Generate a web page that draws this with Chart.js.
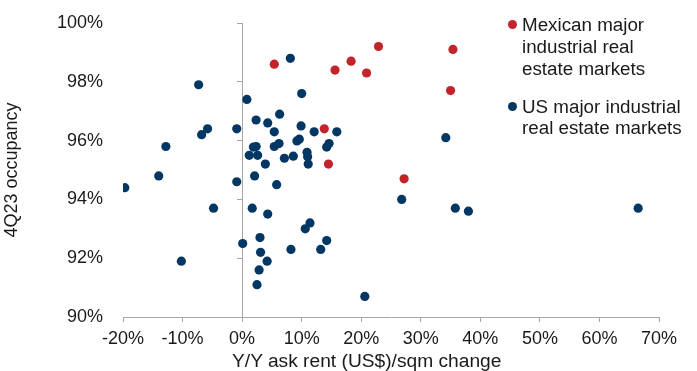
<!DOCTYPE html>
<html>
<head>
<meta charset="utf-8">
<script src="https://cdn.jsdelivr.net/npm/chart.js@4/dist/chart.umd.min.js"></script>
<style>
  body { margin: 0; background: #fff; }
  #wrap { position: relative; width: 697px; height: 371px; }
  #legend { position: absolute; left: 507px; top: 14px; font-family: 'Liberation Sans', Arial, sans-serif;
            font-size: 18.8px; line-height: 22px; color: #1a1a1a; }
  .item { position: relative; padding-left: 15px; margin-bottom: 16px; }
  .item + .item { line-height: 21px; }
  .dot { position: absolute; left: 1px; top: 6px; width: 9px; height: 9px; border-radius: 50%; }
  #xtitle { position: absolute; left: 232px; top: 350px; font-family: 'Liberation Sans', Arial, sans-serif;
            font-size: 19.2px; line-height: 22px; color: #1a1a1a; white-space: nowrap; }
</style>
</head>
<body>
<div id="wrap">
  <canvas id="scatter" width="697" height="371"></canvas>
  <div id="legend"></div>
  <div id="xtitle"></div>
</div>
<script>
// data ------------------------------------------------------
var seriesNames = [['Mexican major', 'industrial real', 'estate markets'],
                   ['US major industrial', 'real estate markets']];
var seriesColors = ['#c3232b', '#023764'];
var xTitle = 'Y/Y ask rent (US$)/sqm change';
var yTitle = '4Q23 occupancy';

// Mexican markets: x = Y/Y ask rent change (%), y = 4Q23 occupancy (%)
var mxRent = [5.4, 15.6, 18.3, 20.9, 22.9, 35.4, 35.0, 13.8, 14.5, 27.2];
var mxOcc  = [98.6, 98.4, 98.7, 98.3, 99.2, 99.1, 97.7, 96.4, 95.2, 94.7];

// US markets
var usRent = [-7.3, -5.8, -6.8, -0.9, -12.8, -14.0, -19.7, -0.9, -4.8, -10.2,
              0.1, 0.8, 10.0, 8.1, 2.35, 4.3, 6.3, 5.4, 9.9, 12.1,
              15.9, 9.6, 9.2, 2.35, 1.9, 5.4, 6.2, 14.6, 14.2, 1.2,
              2.6, 3.9, 7.1, 8.6, 10.9, 11.0, 11.1, 2.1, 5.8, 1.7,
              4.3, 11.4, 10.6, 3.0, 3.1, 4.2, 2.85, 2.5, 8.2, 13.2,
              14.2, 20.6, 26.8, 35.8, 38.0, 66.5, 34.2];
var usOcc  = [97.9, 96.4, 96.2, 96.4, 95.8, 94.8, 94.4, 94.6, 93.7, 91.9,
              92.5, 97.4, 97.6, 98.8, 96.7, 96.6, 96.9, 96.3, 96.5, 96.3,
              96.3, 96.05, 95.99, 95.8, 95.78, 95.8, 95.9, 95.9, 95.78, 95.5,
              95.5, 95.2, 95.4, 95.47, 95.6, 95.45, 95.2, 94.8, 94.5, 93.7,
              93.5, 93.2, 93.0, 92.7, 92.2, 91.9, 91.6, 91.1, 92.3, 92.3,
              92.6, 90.7, 94.0, 93.7, 93.6, 93.7, 96.1];

var xMin = -20, xMax = 70, xStep = 10;
var yMin = 90, yMax = 100, yStep = 2;
// ------------------------------------------------------------

const toPoints = (xs, ys) => xs.map((x, i) => ({x: x, y: ys[i]}));

var axisGray = '#a6a6a6';
var textCol = '#1a1a1a';
var fontFam = "'Liberation Sans', Arial, sans-serif";

var scatter = new Chart(document.getElementById('scatter'), {
    type: 'scatter',
    data: {
        datasets: [{
            label: seriesNames[0].join(' '),
            data: toPoints(mxRent, mxOcc),
            backgroundColor: seriesColors[0],
            borderWidth: 0,
            pointRadius: 4.6
        }, {
            label: seriesNames[1].join(' '),
            data: toPoints(usRent, usOcc),
            backgroundColor: seriesColors[1],
            borderWidth: 0,
            pointRadius: 4.6
        }]
    },
    options: {
        responsive: false,
        animation: false,
        devicePixelRatio: 1,
        layout: { padding: { left: 0, right: 38, top: 23, bottom: 0 } },
        plugins: { legend: { display: false }, tooltip: { enabled: false } },
        scales: {
            x: {
                type: 'linear', min: xMin, max: xMax,
                ticks: { stepSize: xStep, padding: 6, color: textCol,
                         font: { family: fontFam, size: 18 },
                         callback: (v) => v + '%' },
                grid: { drawOnChartArea: false, drawTicks: true, tickLength: 5, color: axisGray },
                border: { display: true, color: axisGray, width: 1 },
                afterFit: (s) => { s.height = 54; }
            },
            y: {
                type: 'linear', min: yMin, max: yMax,
                ticks: { stepSize: yStep, padding: 20, color: textCol,
                         font: { family: fontFam, size: 18 },
                         callback: (v) => v + '%' },
                grid: { display: false, drawTicks: false },
                border: { display: false },
                title: { display: true, text: yTitle, color: textCol,
                         font: { family: fontFam, size: 18 }, padding: { top: 1, bottom: 0 } },
                // the big label padding would otherwise push the plot top down
                afterFit: (s) => { s.width = 123; s.paddingTop = 10; s.paddingBottom = 10; }
            },
            // axis line crossing at 0% with tick marks, Excel style
            y0: {
                type: 'linear', min: yMin, max: yMax,
                position: { x: 0 },
                ticks: { stepSize: yStep, display: false },
                grid: { drawOnChartArea: false, drawTicks: true, tickLength: 5, color: axisGray },
                border: { display: true, color: axisGray, width: 1 }
            }
        }
    }
});

// x title sits left of centre in the original, so place it by hand
document.getElementById('xtitle').textContent = xTitle;

// legend, laid over the plot like the original
var leg = document.getElementById('legend');
seriesNames.forEach((lines, i) => {
    var it = document.createElement('div');
    it.className = 'item';
    it.innerHTML = '<span class="dot" style="background:' + seriesColors[i] + '"></span>' + lines.join('<br>');
    leg.appendChild(it);
});
</script>
</body>
</html>
